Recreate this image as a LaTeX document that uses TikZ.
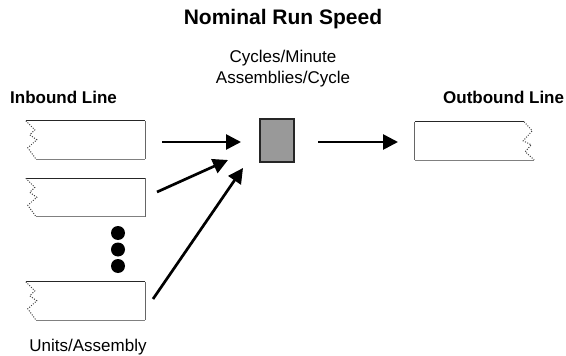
\documentclass[tikz,border=0pt]{standalone}
\usepackage{fontspec}
\setmainfont{Liberation Sans}
\usetikzlibrary{arrows.meta}
\definecolor{stationgray}{HTML}{999999}
\tikzset{
  lane/.style={rectangle, draw=none, minimum width=119pt, minimum height=38pt, inner sep=0pt},
  topedge/.style={line width=1pt, draw=black!85},
  sideedge/.style={line width=1pt, draw=black!60},
  botedge/.style={line width=1.4pt, draw=black!50},
  tornedge/.style={line width=1pt, draw=black!75, dash pattern=on 1pt off 1.5pt},
  flow/.style={line width=2.7pt, -{Triangle[length=15pt,width=15pt]}},
  station/.style={rectangle, draw=black!85, line width=1.2pt, fill=stationgray, minimum width=34pt, minimum height=43pt, inner sep=0pt},
  bigdot/.style={circle, fill=black, minimum size=14pt, inner sep=0pt},
  lbl/.style={font=\fontsize{17}{20}\selectfont, anchor=base, inner sep=0pt},
  boldlbl/.style={font=\fontsize{17}{20}\selectfont\bfseries, anchor=base west, inner sep=0pt},
}
\begin{document}
\begin{tikzpicture}[x=1pt,y=-1pt]
\useasboundingbox (0,0) rectangle (566,356);

% titles and labels
\node[lbl, font=\fontsize{21}{24}\selectfont\bfseries] (title) at (283,24) {Nominal Run Speed};
\node[lbl] (cpm) at (283,63) {Cycles/Minute};
\node[lbl] (apc) at (283,83) {Assemblies/Cycle};
\node[boldlbl] (inlbl) at (10,103) {Inbound Line};
\node[boldlbl] (outlbl) at (443,103) {Outbound Line};
\node[lbl] (upa) at (88,351) {Units/Assembly};

% inbound lanes (torn on the left)
\foreach \n/\y in {in1/140, in2/197.5, in3/301}{
  \node[lane] (\n) at (85.5,\y) {};
  \draw[topedge] (\n.north west) -- (\n.north east);
  \draw[sideedge] (\n.north east) -- (\n.south east);
  \draw[botedge] ([xshift=10pt]\n.south west) -- (\n.south east);
  \draw[tornedge] (\n.north west) -- ++(9,9) -- ++(-5,5) -- ++(7,5) -- ++(-9,8) -- ++(8,11);
}

% outbound lane (torn on the right)
\node[lane] (out) at (474.5,141) {};
\draw[sideedge] (out.north west) -- (out.south west);
\draw[topedge] (out.north west) -- ([xshift=-10pt]out.north east);
\draw[botedge] (out.south west) -- (out.south east);
\draw[tornedge] ([xshift=-10pt]out.north east) -- ++(8,9) -- ++(-9,10) -- ++(8,4) -- ++(-6,7) -- ++(9,8);

% workstation
\node[station] (ws) at (277,140.5) {};

% ellipsis between lanes
\node[bigdot] (d1) at (118,233) {};
\node[bigdot] (d2) at (118,249.5) {};
\node[bigdot] (d3) at (118,266) {};

% material flow
\coordinate (a1s) at (162,142);
\coordinate (a1e) at (241,142);
\coordinate (a2s) at (157,192);
\coordinate (a2e) at (228,160);
\coordinate (a3s) at (153,299);
\coordinate (a3e) at (243,168);
\coordinate (a4s) at (318,142);
\coordinate (a4e) at (398,142);
\draw[flow] (a1s) -- (a1e);
\draw[flow] (a2s) -- (a2e);
\draw[flow] (a3s) -- (a3e);
\draw[flow] (a4s) -- (a4e);
\end{tikzpicture}
\end{document}
